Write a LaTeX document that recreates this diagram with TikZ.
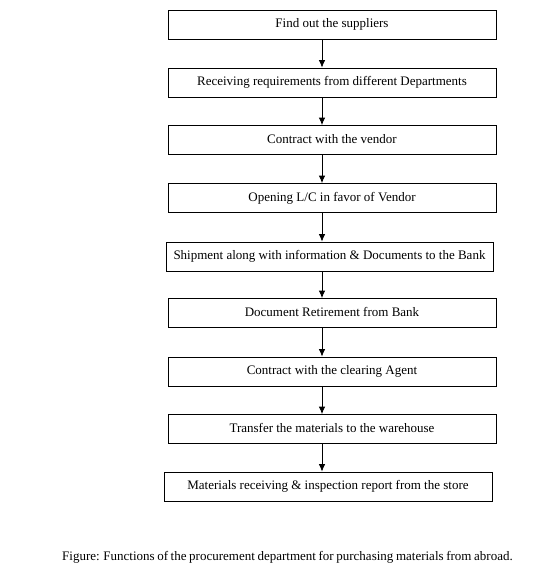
\documentclass[tikz,border=0pt]{standalone}
\usepackage{fontspec}
\setmainfont{Liberation Serif}
\usetikzlibrary{arrows.meta}
\begin{document}
\begin{tikzpicture}[x=1pt,y=1pt,
  stepbox/.style={draw, line width=0.8pt, minimum width=328pt, minimum height=29pt, inner sep=0pt, text height=9pt, text depth=3pt, font=\fontsize{13}{15}\selectfont},
  flow/.style={draw, line width=0.8pt, -{Latex[length=7.5pt,width=6.5pt]}}]
\useasboundingbox (0,0) rectangle (555,-576);
\fill[white] (0,0) rectangle (555,-576);
\node[stepbox] (b1) at (332,-24.5) {Find out the suppliers};
\node[stepbox] (b2) at (332,-82.5) {Receiving requirements from different Departments};
\node[stepbox] (b3) at (332,-140) {Contract with the vendor};
\node[stepbox] (b4) at (332,-198) {Opening L/C in favor of Vendor};
\node[stepbox, minimum width=327pt] (b5) at (329.5,-256.5) {Shipment along with information \& Documents to the Bank};
\node[stepbox] (b6) at (332,-313) {Document Retirement from Bank};
\node[stepbox] (b7) at (332,-371.5) {Contract with the clearing Agent};
\node[stepbox] (b8) at (332,-429) {Transfer the materials to the warehouse};
\node[stepbox] (b9) at (328,-486.5) {Materials receiving \& inspection report from the store};
\coordinate (ax) at (322,0);
\foreach \a/\b in {b1/b2,b2/b3,b3/b4,b4/b5,b5/b6,b6/b7,b7/b8,b8/b9}
  \draw[flow] (\a.south -| ax) -- (\b.north -| ax);
\node[anchor=west, inner sep=0pt, font=\fontsize{13}{15}\selectfont] (cap) at (62,-557) {\spaceskip=0.2em plus 0.1em minus 0.05em Figure: Functions of the procurement department for purchasing materials from abroad.};
\end{tikzpicture}
\end{document}
